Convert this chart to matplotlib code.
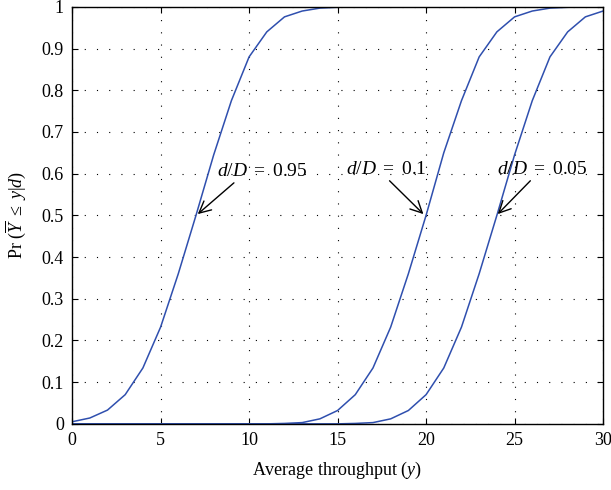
import matplotlib
matplotlib.use("Agg")
from matplotlib import pyplot as plt
import numpy as np

plt.rcParams['font.family'] = 'Liberation Serif'
plt.rcParams['mathtext.fontset'] = 'custom'
plt.rcParams['mathtext.rm'] = 'Liberation Serif'
plt.rcParams['mathtext.it'] = 'Liberation Serif:italic'

# throughput values y = 0..30
y_vals = np.arange(0, 31)

# d/D = 0.95
cdf_095 = [0.005, 0.014, 0.033, 0.07, 0.134, 0.232, 0.36, 0.5, 0.645, 0.775,
           0.88, 0.94, 0.976, 0.99, 0.997, 0.999, 1, 1, 1, 1,
           1, 1, 1, 1, 1, 1, 1, 1, 1, 1, 1]
# d/D = 0.1
cdf_01 = [0, 0, 0, 0, 0, 0, 0, 0, 0, 0,
          0, 0, 0.001, 0.003, 0.012, 0.032, 0.07, 0.134, 0.232, 0.36,
          0.5, 0.65, 0.775, 0.88, 0.94, 0.976, 0.99, 0.997, 0.999, 1, 1]
# d/D = 0.05
cdf_005 = [0, 0, 0, 0, 0, 0, 0, 0, 0, 0,
           0, 0, 0, 0, 0, 0, 0.001, 0.003, 0.012, 0.032,
           0.07, 0.134, 0.232, 0.36, 0.5, 0.645, 0.775, 0.88, 0.94, 0.976, 0.99]

labels = [r'$d/D\ =\ 0.95$', r'$d/D\ =\ 0.1$', r'$d/D\ =\ 0.05$']

col = '#2f4fae'

fig = plt.figure(figsize=(6.11, 4.9), dpi=100)
ax = fig.add_axes([0.118, 0.135, 0.869, 0.851])

for c in [cdf_095, cdf_01, cdf_005]:
    ax.plot(y_vals, c, color=col, lw=1.1)

ax.set_xlim(0, 30)
ax.set_ylim(0, 1)
ax.set_xticks(np.arange(0, 31, 5))
ax.set_yticks(np.arange(0, 1.01, 0.1))
ax.set_yticklabels(['0', '0.1', '0.2', '0.3', '0.4', '0.5', '0.6', '0.7', '0.8', '0.9', '1'])
ax.grid(True, linestyle=(0, (1, 10)), color='black', lw=0.8)
ax.tick_params(direction='in', top=True, right=True, labelsize=13, length=4, pad=6)
for s in ax.spines.values():
    s.set_linewidth(1.0)

ax.set_xlabel(r'Average throughput ($y$)', fontsize=13, labelpad=8)
ax.set_ylabel(r'$\mathrm{Pr}\ (\overline{Y}\ \leq\ y|d)$', fontsize=13, labelpad=10)

# annotations
arrow = dict(arrowstyle='->,head_length=0.6,head_width=0.3', color='black', lw=1,
             shrinkA=0, shrinkB=0)
ax.annotate(labels[0], xy=(7.1, 0.503), xytext=(8.2, 0.605), fontsize=14,
            va='center', ha='left', arrowprops=dict(arrow, relpos=(0.22, 0.0)))
ax.annotate(labels[1], xy=(19.85, 0.503), xytext=(15.5, 0.61), fontsize=14,
            va='center', ha='left', arrowprops=dict(arrow, relpos=(0.5, 0.0)))
ax.annotate(labels[2], xy=(24.05, 0.503), xytext=(24.0, 0.61), fontsize=14,
            va='center', ha='left', arrowprops=dict(arrow, relpos=(0.4, 0.0)))

fig.savefig('out.png', dpi=100)
